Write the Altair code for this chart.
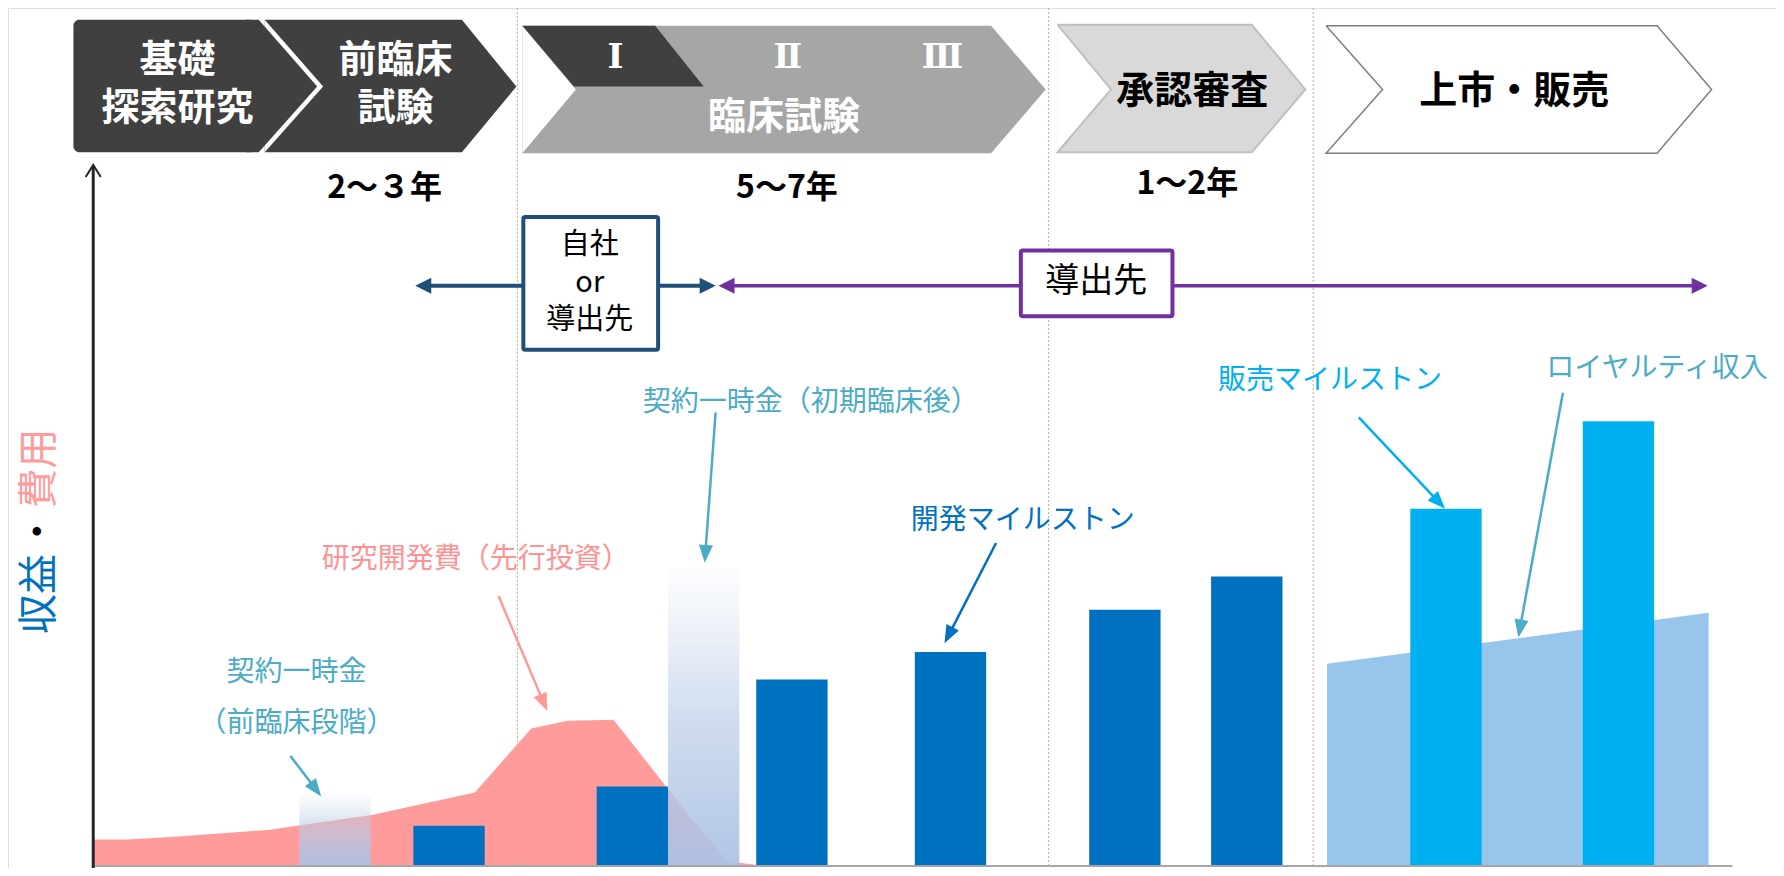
import math
import altair as alt
import pandas as pd

# ---------------- canvas (reference pixel space) ----------------
REF_W, REF_H = 1784, 876
BASE = 873          # baseline row of the value area
FONT = "Noto Sans CJK JP"

# ---------------- chart values (heights above the baseline) ----------------
rd_cost_t = [86, 120, 172, 264, 367, 471, 528, 565, 611, 650, 689, 726, 756]
rd_cost_v = [26, 26, 29, 36, 51, 74, 139, 147, 148, 98, 48, 4, 0]

royalty_t = [1331, 1716]
royalty_v = [205, 257]

upfront_t = [330, 702]
upfront_v = [73, 303]

dev_milestone_t = [445, 630, 791, 951, 1127, 1250]
dev_milestone_v = [40, 80, 189, 217, 260, 294]

sales_milestone_t = [1451, 1625]
sales_milestone_v = [363, 452]

phase_boundaries = [514, 1050, 1317]

# ---------------- text content ----------------
header_white = [("基礎", 171, 54), ("探索研究", 171, 103), ("前臨床", 391, 54),
                ("試験", 391, 103), ("臨床試験", 783, 112)]
header_black = [("承認審査", 1195, 86), ("上市・販売", 1520, 86)]
roman = [("Ⅰ", 613, 51), ("Ⅱ", 787, 51), ("Ⅲ", 943, 51)]
durations = [("2～３年", 380, 183), ("5～7年", 786, 183), ("1～2年", 1190, 179)]
annotations = [
    ("契約一時金", 291, 677, "#4BACC6"),
    ("（前臨床段階）", 291, 729, "#4BACC6"),
    ("研究開発費（先行投資）", 472, 562, "#FF9393"),
    ("契約一時金（初期臨床後）", 810, 402, "#4BACC6"),
    ("開発マイルストン", 1024, 523, "#0070C0"),
    ("販売マイルストン", 1334, 380, "#00B0F0"),
    ("ロイヤルティ収入", 1664, 368, "#4BACC6"),
]
box_texts = [("自社", 587, 241, 29), ("or", 587, 280, 29), ("導出先", 587, 318, 29),
             ("導出先", 1098, 279, 34)]
ylabel = [("収益", 32, 597, "#0070C0"), ("・", 32, 533, "#000000"), ("費用", 32, 469, "#FF9B9B")]

# ---------------- scales ----------------
XS = alt.Scale(domain=[0, REF_W], nice=False, zero=False)
YS = alt.Scale(domain=[0, REF_H], nice=False, zero=False, reverse=True)


def X(f="x"):
    return alt.X(f"{f}:Q", scale=XS, axis=None)


def Y(f="y"):
    return alt.Y(f"{f}:Q", scale=YS, axis=None)


layers = []

# pink R&D cost area
rd = pd.DataFrame({"x": rd_cost_t, "v": rd_cost_v})
rd["y"] = BASE - rd["v"]
rd["y2"] = BASE
layers.append(alt.Chart(rd).mark_area(color="#FF9B9B", opacity=1).encode(
    x=X(), y=Y(), y2="y2:Q"))

# royalty area
ro = pd.DataFrame({"x": royalty_t, "v": royalty_v})
ro["y"] = BASE - ro["v"]
ro["y2"] = BASE
layers.append(alt.Chart(ro).mark_area(color="#97C5EC").encode(
    x=X(), y=Y(), y2="y2:Q"))

# up-front payments (faded gradient bars)
HALF = 36
up = pd.DataFrame({"t": upfront_t, "v": upfront_v})
up["xl"] = up["t"] - HALF
up["xr"] = up["t"] + HALF
up["y"] = BASE - up["v"]
up["y2"] = BASE
grad = alt.LinearGradient(
    gradient="linear", x1=0, x2=0, y1=0, y2=1,
    stops=[alt.GradientStop(color="rgba(200,214,236,0.05)", offset=0),
           alt.GradientStop(color="rgba(184,202,231,0.65)", offset=0.5),
           alt.GradientStop(color="rgba(172,194,228,0.95)", offset=1)])
layers.append(alt.Chart(up).mark_rect(fill=grad).encode(
    x=X("xl"), x2="xr:Q", y=Y(), y2="y2:Q"))

# phase boundary dotted lines
pb = pd.DataFrame({"x": phase_boundaries, "y": 0, "y2": REF_H})
layers.append(alt.Chart(pb).mark_rule(color="#BDB28A", strokeDash=[2, 2], strokeWidth=1).encode(
    x=X(), y=Y(), y2="y2:Q"))


def bars(ts, vs, color):
    d = pd.DataFrame({"t": ts, "v": vs})
    d["xl"] = d["t"] - HALF
    d["xr"] = d["t"] + HALF
    d["y"] = BASE - d["v"]
    d["y2"] = BASE
    return alt.Chart(d).mark_rect(color=color).encode(x=X("xl"), x2="xr:Q", y=Y(), y2="y2:Q")


layers.append(bars(dev_milestone_t, dev_milestone_v, "#0070C0"))
layers.append(bars(sales_milestone_t, sales_milestone_v, "#00B0F0"))

# baseline and value axis
bl = pd.DataFrame({"x": [86], "x2": [1740], "y": [874]})
layers.append(alt.Chart(bl).mark_rule(color="#A6A6A6", strokeWidth=2).encode(
    x=X(), x2="x2:Q", y=Y()))
ax = pd.DataFrame({"x": [86], "y": [876], "y2": [162]})
layers.append(alt.Chart(ax).mark_rule(color="#262626", strokeWidth=3).encode(
    x=X(), y=Y(), y2="y2:Q"))
axh = pd.DataFrame({"x": [86], "y": [166]})
layers.append(alt.Chart(axh).mark_point(
    shape="M-1,0.8L0,-0.8L1,0.8", filled=False, color="#262626", strokeWidth=2,
    size=230, opacity=1).encode(x=X(), y=Y()))


# ---------------- process chevrons ----------------
def varea(xs, tops, bottoms, fill):
    d = pd.DataFrame({"x": xs, "y": tops, "y2": bottoms})
    return alt.Chart(d).mark_area(color=fill, opacity=1, interpolate="linear").encode(
        x=X(), y=Y(), y2="y2:Q")


def chevron(xl, xr_top, xpoint, xnotch, yt, ym, yb, fill, outline=None, ow=1.5):
    out = [varea([xl, xr_top, xpoint], [yt, yt, ym], [yb, yb, ym], fill)]
    if xnotch is not None:
        out.append(varea([xl, xnotch], [yt, ym], [yb, ym], "#FFFFFF"))
    if outline:
        px = [xl, xr_top, xpoint, xr_top, xl, xnotch, xl]
        py = [yt, yt, ym, yb, yb, ym, yt]
        d = pd.DataFrame({"x": px, "y": py, "i": range(len(px))})
        out.append(alt.Chart(d).mark_line(color=outline, strokeWidth=ow).encode(
            x=X(), y=Y(), order="i:Q"))
    return out


# chevron 2 first, then the rounded first box on top (white gap shows through the notch)
layers += chevron(259, 458, 513, 318, 12, 80, 147, "#404040")
box1 = pd.DataFrame({"x": [66], "x2": [250], "y": [12], "y2": [147]})
layers.append(alt.Chart(box1).mark_rect(color="#404040", cornerRadius=6).encode(
    x=X(), x2="x2:Q", y=Y(), y2="y2:Q"))
layers.append(varea([240, 253, 312], [12, 12, 80], [147, 147, 80], "#404040"))
layers += chevron(519, 992, 1047, 573, 18, 83, 148, "#A6A6A6")
# phase I dark sub-chevron
layers.append(varea([519, 571, 653, 702], [18, 18, 18, 80], [18, 80, 80, 80], "#404040"))
layers += chevron(1059, 1255, 1309, 1113, 17, 83, 147, "#D9D9D9", "#BFBFBF", 2)
layers += chevron(1330, 1664, 1719, 1387, 18, 83, 148, "#FFFFFF", "#7F7F7F", 1.5)


# ---------------- arrows ----------------
def arrows(items, color, width, head_len, head_hw):
    lines, heads = [], []
    for sx, sy, tx, ty in items:
        dx, dy = tx - sx, ty - sy
        d = math.hypot(dx, dy)
        ux, uy = dx / d, dy / d
        lines.append(dict(x=sx, y=sy, x2=tx - ux * head_len * 0.8, y2=ty - uy * head_len * 0.8))
        ang = math.degrees(math.atan2(dx, -dy)) % 360
        heads.append(dict(x=tx - ux * head_len / 2, y=ty - uy * head_len / 2, ang=ang))
    k = head_hw / (head_len / 2)
    l1 = alt.Chart(pd.DataFrame(lines)).mark_rule(color=color, strokeWidth=width).encode(
        x=X(), y=Y(), x2="x2:Q", y2="y2:Q")
    l2 = alt.Chart(pd.DataFrame(heads)).mark_point(
        shape=f"M0,-1L{k:.3f},1L{-k:.3f},1Z", filled=True, color=color, opacity=1,
        size=head_len ** 2, strokeWidth=0).encode(
        x=X(), y=Y(), angle=alt.Angle("ang:Q", scale=None))
    return [l1, l2]


# horizontal licensing arrows and boxes
layers += arrows([(540, 283, 411, 283), (640, 283, 714, 283)], "#1F4E79", 4, 16, 8)
layers += arrows([(1100, 283, 717, 283), (1100, 283, 1715, 283)], "#7030A0", 3.5, 16, 8)

boxes = pd.DataFrame({"x": [520, 1022], "x2": [656, 1175], "y": [213, 247], "y2": [348, 314],
                      "c": ["#1F4E79", "#7030A0"]})
layers.append(alt.Chart(boxes).mark_rect(fill="white", strokeWidth=4, cornerRadius=2).encode(
    x=X(), x2="x2:Q", y=Y(), y2="y2:Q", stroke=alt.Stroke("c:N", scale=None)))

# annotation arrows
layers += arrows([(285, 762, 316, 803)], "#4BACC6", 2.5, 18, 7)
layers += arrows([(495, 599, 544, 716)], "#FF9999", 2.5, 18, 7)
layers += arrows([(714, 412, 703, 565)], "#4BACC6", 2.5, 18, 7)
layers += arrows([(997, 545, 945, 647)], "#0070C0", 2.5, 18, 7)
layers += arrows([(1363, 417, 1450, 510)], "#00B0F0", 2.5, 18, 7)
layers += arrows([(1569, 392, 1524, 641)], "#4BACC6", 2.5, 18, 7)


# ---------------- texts ----------------
def texts(rows, size, color=None, weight="normal", font=FONT, angle=0):
    d = pd.DataFrame(rows)
    enc = dict(x=X(), y=Y(), text="text:N")
    kw = dict(font=font, fontSize=size, fontWeight=weight, align="center", baseline="middle")
    if angle:
        kw["angle"] = angle
    if color is None:
        enc["color"] = alt.Color("c:N", scale=None)
    else:
        kw["color"] = color
    return alt.Chart(d).mark_text(**kw).encode(**enc)


layers.append(texts([dict(text=t, x=x, y=y) for t, x, y in header_white], 38, "#FFFFFF", "bold"))
layers.append(texts([dict(text=t, x=x, y=y) for t, x, y in header_black], 38, "#000000", "bold"))
layers.append(texts([dict(text=t, x=x, y=y) for t, x, y in roman], 34, "#FFFFFF", "bold",
                    font="DejaVu Serif, Liberation Serif, Noto Sans CJK JP"))
layers.append(texts([dict(text=t, x=x, y=y) for t, x, y in durations], 32, "#000000", "bold"))
layers.append(texts([dict(text=t, x=x, y=y, c=c) for t, x, y, c in annotations], 28))
for t, x, y, s in box_texts:
    layers.append(texts([dict(text=t, x=x, y=y)], s, "#000000"))
layers.append(texts([dict(text=t, x=x, y=y, c=c) for t, x, y, c in ylabel], 40, angle=270))

chart = alt.layer(*layers).properties(
    width=1768, height=860, padding=0,
    autosize=alt.AutoSizeParams(type="none"),
).configure_view(stroke=None).configure(background="white")

chart.save("out.html", embed_options={"renderer": "svg", "actions": False})
